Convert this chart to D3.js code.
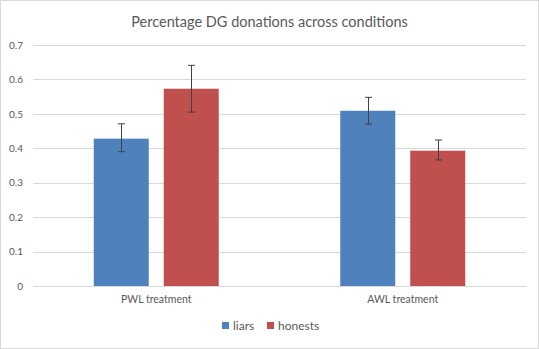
<!DOCTYPE html>
<html>
<head>
<meta charset="utf-8">
<script src="https://cdn.jsdelivr.net/npm/d3@7"></script>
<style>
  body { margin: 0; background: #fff; }
  text { font-family: Lato, "Open Sans", sans-serif; fill: #595959; }
</style>
</head>
<body>
<div id="chart"></div>
<script>
// data
const conditions = ["PWL treatment", "AWL treatment"];
const groups = ["liars", "honests"];
const liarsMean = [0.428, 0.509];
const liarsLow = [0.390, 0.470];
const liarsHigh = [0.471, 0.548];
const honestsMean = [0.573, 0.393];
const honestsLow = [0.505, 0.366];
const honestsHigh = [0.641, 0.424];
const yTicks = [0, 0.1, 0.2, 0.3, 0.4, 0.5, 0.6, 0.7];
const colors = ["#4f81bd", "#c0504d"];

const rows = [];
conditions.forEach((c, i) => {
    rows.push({ cond: c, group: "liars", v: liarsMean[i], lo: liarsLow[i], hi: liarsHigh[i] });
    rows.push({ cond: c, group: "honests", v: honestsMean[i], lo: honestsLow[i], hi: honestsHigh[i] });
});

const W = 539, H = 349;
const margin = { top: 45, right: 13, bottom: 63, left: 33 },
      width = W - margin.left - margin.right,
      height = H - margin.top - margin.bottom;

const root = d3.select("#chart").append("svg")
    .attr("width", W)
    .attr("height", H);

// outer frame
root.append("rect")
    .attr("x", 0.5).attr("y", 0.5)
    .attr("width", W - 1).attr("height", H - 1)
    .attr("fill", "#fff")
    .attr("stroke", "#d9d9d9");

root.append("text")
    .attr("x", W / 2)
    .attr("y", 27)
    .attr("text-anchor", "middle")
    .attr("font-size", "14.5px")
    .text("Percentage DG donations across conditions");

const svg = root.append("g")
    .attr("transform", `translate(${margin.left},${margin.top})`);

// scales
const x0 = d3.scaleBand().domain(conditions).range([0, width]);
const x1 = d3.scaleBand().domain(groups)
    .range([x0.bandwidth() / 2 - 62.5, x0.bandwidth() / 2 + 62.5])
    .paddingInner(0.214);
const y = d3.scaleLinear().domain([0, 0.7]).range([height, 0]);
const color = d3.scaleOrdinal().domain(groups).range(colors);

// gridlines
svg.append("g")
    .selectAll("line")
    .data(yTicks)
    .join("line")
    .attr("x1", 0).attr("x2", width)
    .attr("y1", d => Math.round(y(d)) + 0.5)
    .attr("y2", d => Math.round(y(d)) + 0.5)
    .attr("stroke", "#d9d9d9");

// y axis labels
const yAxis = svg.append("g")
    .call(d3.axisLeft(y).tickValues(yTicks).tickSize(0).tickPadding(10).tickFormat(d => d === 0 ? "0" : d3.format(".1f")(d)));
yAxis.select(".domain").remove();
yAxis.selectAll("text").attr("font-size", "10px").attr("font-family", "Lato, sans-serif").attr("fill", "#595959");

// bars
svg.selectAll(".bar")
    .data(rows)
    .join("rect")
    .attr("class", "bar")
    .attr("x", d => x0(d.cond) + x1(d.group))
    .attr("width", x1.bandwidth())
    .attr("y", d => y(d.v))
    .attr("height", d => height - y(d.v))
    .attr("fill", d => color(d.group));

// error bars
const err = svg.selectAll(".err")
    .data(rows)
    .join("g")
    .attr("class", "err")
    .attr("transform", d => `translate(${Math.round(x0(d.cond) + x1(d.group) + x1.bandwidth() / 2) + 0.5},0)`)
    .attr("stroke", "#404040")
    .attr("stroke-width", 1);
err.append("line").attr("y1", d => y(d.lo)).attr("y2", d => y(d.hi));
err.append("line").attr("x1", -3.5).attr("x2", 3.5).attr("y1", d => y(d.lo)).attr("y2", d => y(d.lo));
err.append("line").attr("x1", -3.5).attr("x2", 3.5).attr("y1", d => y(d.hi)).attr("y2", d => y(d.hi));

// x axis
const xAxis = svg.append("g")
    .attr("transform", `translate(0,${height})`)
    .call(d3.axisBottom(x0).tickSize(0).tickPadding(10));
xAxis.select(".domain").attr("stroke", "#d9d9d9");
xAxis.selectAll("text").attr("font-size", "10.5px").attr("font-family", "Lato, sans-serif").attr("fill", "#595959");

// legend
const legend = root.append("g").attr("transform", "translate(222,321)");
const legendX = [0, 45];
groups.forEach((g, i) => {
    const item = legend.append("g").attr("transform", `translate(${legendX[i]},0)`);
    item.append("rect")
        .attr("width", 7).attr("height", 7)
        .attr("y", 1)
        .attr("fill", color(g));
    item.append("text")
        .attr("x", 11)
        .attr("y", 9)
        .attr("font-size", "12px")
        .text(g);
});
</script>
</body>
</html>
